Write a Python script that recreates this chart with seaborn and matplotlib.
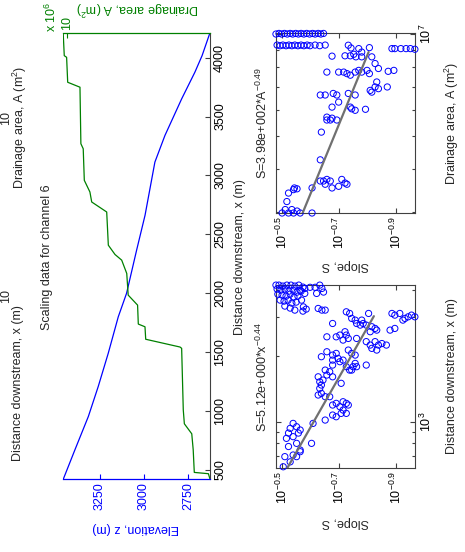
import numpy as np
import pandas as pd
import matplotlib
matplotlib.use("Agg")
import matplotlib.pyplot as plt
import seaborn as sns
from matplotlib.ticker import FixedLocator, FixedFormatter, NullLocator

# ---------------- data ----------------
# longitudinal profile of channel 6
profile_distance = [421, 670, 952, 1206, 1489, 1799, 1998, 2364, 2661, 3113, 3339, 3650, 3876, 4017, 4212]
profile_elevation = [3458, 3392, 3316, 3260, 3203, 3146, 3099, 3042, 2994, 2938, 2881, 2786, 2711, 2670, 2625]

# drainage area along the channel (x 10^6 m^2)
area_distance = [421, 466, 477, 669, 805, 890, 1008, 1531, 1542, 1608, 1714, 1737, 1898, 1983,
                 2167, 2280, 2328, 2407, 2689, 2774, 2859, 2958, 3226, 3269, 3749, 3791, 4003, 4017, 4212]
area_Mm2 = [2.08, 2.17, 2.95, 3.01, 3.09, 3.50, 3.56, 3.65, 3.74, 5.64, 5.68, 6.05, 6.09, 6.61,
            6.69, 6.97, 7.34, 7.71, 7.80, 8.63, 8.73, 9.04, 9.10, 9.23, 9.28, 9.96, 10.02, 10.15, 10.21]

# slope vs distance downstream
slope_dist_d = [4195, 4195, 4152, 4195, 4195, 4152, 4195, 4108, 4023, 3981, 4023, 3939, 3981, 3898, 3939,
                3817, 3778, 3738, 3817, 3699, 3738, 3585, 3548, 3585, 3474, 3511, 3368, 3298, 3229, 3195, 3263,
                3981, 4050, 4100, 4100, 4195, 4050, 3900, 3845, 3845, 3585, 3340, 3285, 3229, 3229,
                3172, 3118, 2960, 2908, 3118, 2908, 2807, 2760, 2760, 2807, 2807,
                3118, 3064, 3118, 2960, 3010, 3064, 3010, 2908, 2619, 2665,
                2713, 2665, 2619, 2575,
                2441, 2441, 2486, 2575, 2486, 2400, 2359, 2400,
                2321, 2239, 2321, 2239, 2163, 2125, 2275, 2239,
                1982, 2088, 2016, 2052, 1947, 1881, 1913, 1913, 1816, 1785, 1723, 1723, 1785, 1785, 1848, 1816, 2125, 2052, 2016,
                1606, 1524, 1473, 1552, 1636, 1723, 1694, 1606, 1423, 1350, 1304, 1304, 1327, 1500,
                1195, 1216, 1174, 1134, 1195, 1095, 1095, 1076, 1021, 1057, 1237, 1216,
                986, 800,
                986, 952, 936, 891, 891, 858, 843, 800, 774, 733, 708, 696, 659, 626, 696, 920, 746]
slope_dist_S = [0.332, 0.324, 0.314, 0.304, 0.294, 0.285, 0.276, 0.267, 0.329, 0.319, 0.309, 0.299, 0.289, 0.280, 0.271,
                0.327, 0.316, 0.306, 0.296, 0.287, 0.278, 0.321, 0.311, 0.301, 0.292, 0.282, 0.309, 0.296, 0.285, 0.267, 0.260,
                0.273, 0.263, 0.252, 0.242, 0.233, 0.229, 0.226, 0.239, 0.263, 0.270, 0.266, 0.236, 0.229, 0.223,
                0.188, 0.183, 0.180, 0.175, 0.157, 0.166, 0.164, 0.160, 0.168, 0.173, 0.210,
                0.130, 0.127, 0.122, 0.117, 0.114, 0.111, 0.108, 0.119, 0.132, 0.127,
                0.153, 0.149, 0.147, 0.155,
                0.220, 0.204, 0.198, 0.190, 0.188, 0.185, 0.193, 0.173,
                0.160, 0.155, 0.149, 0.145, 0.153, 0.147, 0.141, 0.136,
                0.230, 0.220, 0.210, 0.204, 0.201, 0.198, 0.193, 0.210, 0.210, 0.188, 0.183, 0.180, 0.178, 0.173, 0.175, 0.160, 0.185, 0.180, 0.175,
                0.236, 0.233, 0.230, 0.227, 0.220, 0.223, 0.215, 0.210, 0.233, 0.230, 0.223, 0.215, 0.236, 0.196,
                0.210, 0.204, 0.198, 0.193, 0.185, 0.188, 0.196, 0.210, 0.223, 0.204, 0.193, 0.188,
                0.246, 0.249,
                0.289, 0.281, 0.296, 0.300, 0.277, 0.289, 0.305, 0.281, 0.300, 0.273, 0.289, 0.309, 0.296, 0.313, 0.281, 0.273, 0.273]

# slope vs drainage area (A in 10^6 m^2)
slope_area_A = [10.0, 10.04, 10.0, 10.04, 10.0, 10.04, 10.0, 10.04, 10.0, 10.04, 10.0, 10.04, 10.0, 10.04, 10.0, 10.04, 10.0, 10.04,
                9.28, 9.24, 9.28, 9.24, 9.28, 9.24, 9.28, 9.24, 9.28, 9.24, 9.28, 9.24, 9.28, 9.24, 9.28,
                8.61, 9.27, 9.10, 9.06, 9.12, 8.85, 8.63, 8.63, 8.72, 8.57, 8.57, 8.57, 8.19, 7.92,
                9.06, 9.06, 9.06, 9.06, 9.06, 9.02,
                7.73, 7.73, 7.73, 7.65, 7.57, 7.73, 7.82, 7.73, 7.65, 7.82, 7.77, 7.82,
                7.23, 6.99, 6.83, 6.75, 6.91, 6.99,
                6.62, 6.62, 6.69, 6.62, 6.69, 6.62,
                6.31, 6.10, 6.10, 6.03, 5.97, 6.01,
                5.70, 5.66, 5.59, 5.59, 5.59,
                5.15, 4.27,
                3.70, 3.70, 3.74, 3.70, 3.62, 3.53, 3.53, 3.74, 3.65, 3.62, 3.57,
                3.53, 3.49, 3.51, 3.41, 3.22,
                2.98, 2.98, 2.98, 3.02, 2.98, 2.98, 3.05, 3.05]
slope_area_S = [0.332, 0.324, 0.317, 0.310, 0.303, 0.296, 0.290, 0.283, 0.277, 0.271, 0.265, 0.259, 0.253, 0.247, 0.242, 0.236, 0.231, 0.226,
                0.329, 0.321, 0.314, 0.306, 0.299, 0.292, 0.285, 0.278, 0.271, 0.265, 0.258, 0.252, 0.242, 0.233, 0.223,
                0.211, 0.185, 0.181, 0.170, 0.156, 0.166, 0.190, 0.182, 0.177, 0.174, 0.166, 0.153, 0.149, 0.145,
                0.130, 0.127, 0.121, 0.116, 0.112, 0.108,
                0.220, 0.200, 0.192, 0.187, 0.182, 0.175, 0.170, 0.166, 0.156, 0.159, 0.134, 0.128,
                0.147, 0.149, 0.155, 0.153, 0.145, 0.135,
                0.232, 0.223, 0.209, 0.203, 0.185, 0.175,
                0.200, 0.211, 0.182, 0.180, 0.175, 0.161,
                0.220, 0.211, 0.220, 0.214, 0.203,
                0.230, 0.232,
                0.232, 0.226, 0.220, 0.214, 0.223, 0.211, 0.248, 0.195, 0.190, 0.187, 0.200,
                0.286, 0.288, 0.280, 0.300, 0.304,
                0.316, 0.300, 0.288, 0.280, 0.273, 0.248, 0.308, 0.292]

# power-law fits shown on the chart
fit_dist_coef, fit_dist_exp = 5.12, -0.44
fit_dist_range = [618, 3030]
fit_area_coef, fit_area_exp = 3.98e2, -0.49
fit_area_range_Mm2 = [2.98, 8.85]

elev_ticks = [3250, 3000, 2750]
dist_ticks = [500, 1000, 1500, 2000, 2500, 3000, 3500, 4000]
slope_ticks_exp = [-0.5, -0.7, -0.9]

# ---------------- style ----------------
sns.set_theme(style="white")
plt.rcParams["font.family"] = ["Liberation Sans", "DejaVu Sans"]
plt.rcParams["mathtext.fontset"] = "custom"
plt.rcParams["mathtext.rm"] = "Liberation Sans"
plt.rcParams["mathtext.it"] = "Liberation Sans:italic"
plt.rcParams["mathtext.bf"] = "Liberation Sans:bold"

FS = 9
W, H = 465, 552
fig = plt.figure(figsize=(W / 100, H / 100), dpi=100)
fig.patch.set_facecolor("white")


def box(x0, y0, x1, y1):
    return [x0 / W, 1 - y1 / H, (x1 - x0) / W, (y1 - y0) / H]


def T(px, py, s, rot, **kw):
    fig.text(px / W, 1 - py / H, s, rotation=rot, ha="center", va="center", fontsize=FS, **kw)


BOX = "#404040"

# ---------------- top (profile) panel ----------------
ax_top = fig.add_axes(box(63, 32.7, 210, 479))
prof = pd.DataFrame({"z": profile_elevation, "x": profile_distance})
sns.lineplot(data=prof, x="z", y="x", ax=ax_top, color="blue", lw=0.9,
             sort=False, estimator=None, orient="y")
ax_top.set_xlim(3460, 2625)
ax_top.set_ylim(421, 4212)
ax_top.set_xlabel("")
ax_top.set_ylabel("")
ax_top.set_xticks(elev_ticks)
ax_top.set_xticklabels([str(v) for v in elev_ticks])
ax_top.yaxis.tick_right()
ax_top.set_yticks(dist_ticks)
ax_top.set_yticklabels([str(v) for v in dist_ticks])
ax_top.tick_params(axis="x", colors="blue", direction="in", length=3.5, width=0.8,
                   labelrotation=90, labelsize=FS, pad=2, bottom=True, top=False)
ax_top.tick_params(axis="y", colors=BOX, labelcolor="black", direction="in", length=3.5, width=0.8,
                   labelrotation=90, labelsize=FS, pad=3, right=True, left=False)
for lab in ax_top.get_yticklabels():
    lab.set_va("center")
ax_top.spines["left"].set_visible(False)
ax_top.spines["top"].set_visible(False)
ax_top.spines["bottom"].set_color("blue")
ax_top.spines["bottom"].set_linewidth(0.9)
ax_top.spines["right"].set_color(BOX)
ax_top.spines["right"].set_linewidth(0.8)

ax_green = ax_top.twiny()
sns.lineplot(x=area_Mm2, y=area_distance, ax=ax_green, color="green", lw=0.9,
             sort=False, estimator=None, orient="y")
ax_green.set_xlim(10.22, 2.08)
ax_green.set_ylim(421, 4212)
ax_green.set_xlabel("")
ax_green.set_ylabel("")
ax_green.set_xticks([10])
ax_green.set_xticklabels(["10"])
ax_green.tick_params(axis="x", colors="green", direction="in", length=3.5, width=0.8,
                     labelrotation=90, labelsize=FS, pad=2, top=True, bottom=False)
for side in ["left", "right", "bottom"]:
    ax_green.spines[side].set_visible(False)
ax_green.spines["top"].set_color("green")
ax_green.spines["top"].set_linewidth(0.9)


# ---------------- scatter panels ----------------
def scatter_panel(ax, S, v, fitS, fitv, ylim, ymajor, ymajor_lab, yminor):
    ax.set_xscale("log")
    ax.set_yscale("log")
    sns.scatterplot(x=S, y=v, ax=ax, s=20, linewidth=0.7, color="blue", zorder=3)
    for c in ax.collections:
        c.set_facecolor("none")
        c.set_edgecolor("blue")
        c.set_clip_on(False)
    sns.lineplot(x=fitS, y=fitv, ax=ax, color="#707070", lw=1.6, sort=False,
                 estimator=None, orient="y", zorder=4)
    ax.set_xlim(10 ** -0.479, 10 ** -0.967)
    ax.set_ylim(*ylim)
    ax.set_xlabel("")
    ax.set_ylabel("")
    ax.xaxis.set_major_locator(FixedLocator([10 ** e for e in slope_ticks_exp]))
    ax.xaxis.set_major_formatter(FixedFormatter(["$10^{%g}$" % e for e in slope_ticks_exp]))
    ax.xaxis.set_minor_locator(NullLocator())
    ax.yaxis.set_major_locator(FixedLocator(ymajor))
    ax.yaxis.set_major_formatter(FixedFormatter(ymajor_lab))
    ax.yaxis.set_minor_locator(FixedLocator(yminor))
    ax.yaxis.set_minor_formatter(FixedFormatter([""] * len(yminor)))
    ax.tick_params(which="both", direction="in", colors=BOX, labelcolor="black", width=0.8,
                   top=True, bottom=True, left=True, right=True,
                   labelleft=False, labelright=True, labelbottom=True, labeltop=False)
    ax.tick_params(which="major", length=3.5)
    ax.tick_params(which="minor", length=2)
    ax.tick_params(axis="x", labelrotation=90, labelsize=FS, pad=2)
    ax.tick_params(axis="y", labelrotation=90, labelsize=FS, pad=3)
    for lab in ax.get_yticklabels():
        lab.set_va("center")
    for sp in ax.spines.values():
        sp.set_color(BOX)
        sp.set_linewidth(0.8)
        sp.set_visible(True)
    ax.set_facecolor("none")


ax_area = fig.add_axes(box(276, 32.7, 415, 213))
A_m2 = np.array(slope_area_A) * 1e6
fitA = np.array(fit_area_range_Mm2) * 1e6
scatter_panel(ax_area, slope_area_S, A_m2, fit_area_coef * fitA ** fit_area_exp, fitA,
              (2.98e6, 1.009e7), [1e7], ["$10^{7}$"],
              [3e6, 4e6, 5e6, 6e6, 7e6, 8e6, 9e6])

ax_dist = fig.add_axes(box(276, 285, 415, 468))
fitD = np.array(fit_dist_range, dtype=float)
scatter_panel(ax_dist, slope_dist_S, slope_dist_d, fit_dist_coef * fitD ** fit_dist_exp, fitD,
              (618, 4200), [1000], ["$10^{3}$"],
              [700, 800, 900, 2000, 3000, 4000])

# ---------------- texts ----------------
T(47, 257, "Scaling data for channel 6", 90)
T(240, 257, "Distance downstream, x (m)", 90)
T(136, 528, "Elevation, z (m)", 180, color="blue")
T(137, 8, "Drainage area, A (m$^2$)", 180, color="green")
T(51, 17, "x 10$^6$", 90, color="green")

T(262, 377, "S=5.12e+000*x$^{-0.44}$", 90)
T(262, 123, "S=3.98e+002*A$^{-0.49}$", 90)
T(345.5, 522, "Slope, S", 180)
T(345.5, 265, "Slope, S", 180)
T(452, 376.5, "Distance downstream, x (m)", 90)
T(452, 123, "Drainage area, A (m$^2$)", 90)

# labels belonging to the panels beyond the page edge
T(20, 127, "Drainage area, A (m$^2$)", 90)
T(18, 383, "Distance downstream, x (m)", 90)
T(6, 118, "10", 90)
T(6, 296, "10", 90)

fig.savefig("out.png", dpi=100, facecolor="white")
